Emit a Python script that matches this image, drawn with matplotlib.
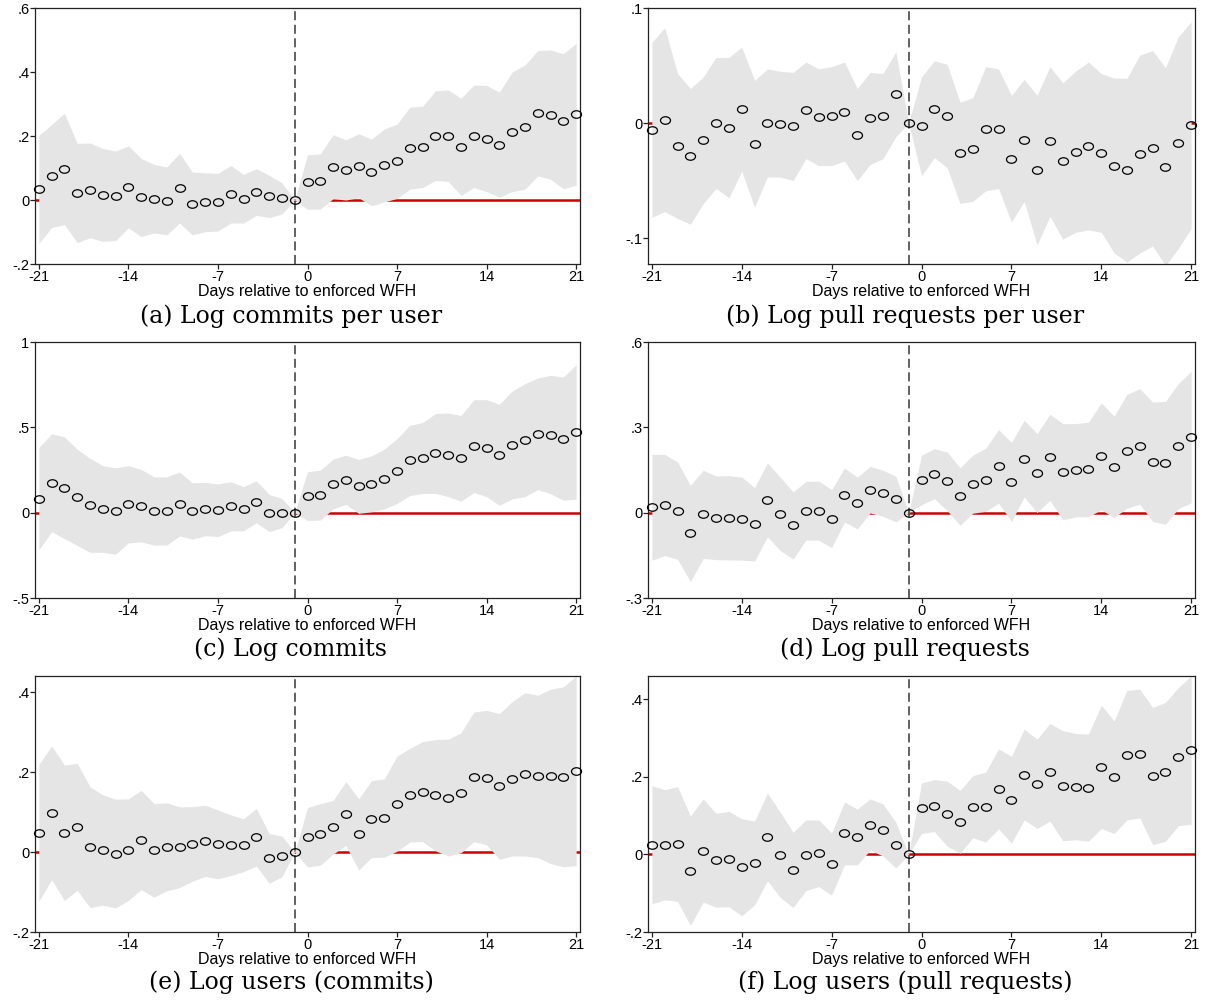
import numpy as np
import matplotlib.pyplot as plt
from matplotlib.path import Path
from matplotlib.transforms import Affine2D

# ----------------------------------------
# Data (event-study estimates and CI half-widths, days -21..21, base day -1)
# ----------------------------------------
days = np.arange(-21, 22)

# (a) Log commits per user
commits_user_est = [0.033, 0.075, 0.097, 0.022, 0.030, 0.016, 0.013, 0.041, 0.008, 0.004, -0.003,
                    0.037, -0.011, -0.007, -0.007, 0.018, 0.004, 0.025, 0.011, 0.005, 0.0,
                    0.056, 0.058, 0.104, 0.094, 0.107, 0.086, 0.108, 0.121, 0.162, 0.166, 0.201,
                    0.201, 0.166, 0.199, 0.192, 0.173, 0.213, 0.228, 0.271, 0.267, 0.246, 0.268]
commits_user_ci = [0.169, 0.161, 0.174, 0.155, 0.148, 0.145, 0.140, 0.128, 0.122, 0.107, 0.106,
                   0.109, 0.098, 0.092, 0.090, 0.090, 0.076, 0.073, 0.066, 0.049, 0.0,
                   0.085, 0.086, 0.100, 0.094, 0.100, 0.104, 0.114, 0.116, 0.128, 0.127, 0.140,
                   0.143, 0.152, 0.160, 0.166, 0.164, 0.187, 0.194, 0.196, 0.202, 0.211, 0.222]

# (b) Log pull requests per user
prs_user_est = [-0.006, 0.003, -0.020, -0.029, -0.015, 0.000, -0.004, 0.012, -0.018, 0.000, -0.001,
                -0.003, 0.011, 0.005, 0.006, 0.010, -0.010, 0.004, 0.006, 0.025, 0.0,
                -0.003, 0.012, 0.006, -0.026, -0.023, -0.005, -0.005, -0.031, -0.015, -0.041, -0.016,
                -0.033, -0.025, -0.020, -0.026, -0.037, -0.041, -0.027, -0.022, -0.038, -0.017, -0.002]
prs_user_ci = [0.076, 0.080, 0.063, 0.059, 0.055, 0.057, 0.061, 0.054, 0.055, 0.047, 0.046,
               0.047, 0.042, 0.042, 0.043, 0.043, 0.040, 0.040, 0.037, 0.037, 0.0,
               0.043, 0.042, 0.045, 0.044, 0.045, 0.054, 0.052, 0.055, 0.053, 0.065, 0.065,
               0.068, 0.070, 0.073, 0.069, 0.076, 0.080, 0.086, 0.085, 0.086, 0.092, 0.090]

# (c) Log commits
commits_est = [0.082, 0.175, 0.146, 0.090, 0.043, 0.021, 0.010, 0.049, 0.041, 0.010, 0.010,
               0.051, 0.010, 0.021, 0.014, 0.037, 0.023, 0.064, -0.002, -0.002, 0.0,
               0.097, 0.103, 0.168, 0.193, 0.154, 0.169, 0.197, 0.244, 0.306, 0.320, 0.347,
               0.339, 0.318, 0.390, 0.378, 0.339, 0.397, 0.425, 0.462, 0.458, 0.434, 0.473]
commits_ci = [0.300, 0.287, 0.298, 0.282, 0.275, 0.254, 0.253, 0.226, 0.212, 0.200, 0.200,
              0.187, 0.165, 0.156, 0.154, 0.144, 0.129, 0.123, 0.109, 0.086, 0.0,
              0.143, 0.146, 0.146, 0.144, 0.158, 0.164, 0.175, 0.190, 0.206, 0.208, 0.234,
              0.245, 0.251, 0.272, 0.284, 0.296, 0.316, 0.331, 0.327, 0.347, 0.361, 0.394]

# (d) Log pull requests
prs_est = [0.019, 0.027, 0.007, -0.073, -0.006, -0.018, -0.018, -0.021, -0.041, 0.045, -0.004,
           -0.045, 0.007, 0.007, -0.021, 0.062, 0.034, 0.081, 0.068, 0.048, 0.0,
           0.115, 0.137, 0.110, 0.057, 0.100, 0.116, 0.163, 0.108, 0.190, 0.139, 0.195,
           0.144, 0.149, 0.152, 0.198, 0.161, 0.216, 0.233, 0.179, 0.175, 0.234, 0.266]
prs_ci = [0.186, 0.178, 0.171, 0.169, 0.155, 0.147, 0.148, 0.146, 0.129, 0.130, 0.129,
          0.118, 0.103, 0.104, 0.102, 0.095, 0.091, 0.082, 0.081, 0.080, 0.0,
          0.087, 0.088, 0.103, 0.101, 0.102, 0.111, 0.129, 0.139, 0.135, 0.139, 0.151,
          0.169, 0.164, 0.166, 0.188, 0.178, 0.200, 0.203, 0.210, 0.216, 0.220, 0.231]

# (e) Log users (commits)
users_c_est = [0.048, 0.098, 0.048, 0.063, 0.012, 0.005, -0.004, 0.006, 0.030, 0.004, 0.013,
               0.012, 0.020, 0.028, 0.019, 0.017, 0.017, 0.037, -0.016, -0.011, 0.0,
               0.037, 0.044, 0.062, 0.096, 0.044, 0.082, 0.085, 0.121, 0.142, 0.151, 0.142,
               0.136, 0.148, 0.188, 0.186, 0.164, 0.183, 0.194, 0.189, 0.189, 0.188, 0.203]
users_c_ci = [0.171, 0.167, 0.169, 0.159, 0.151, 0.138, 0.136, 0.127, 0.124, 0.117, 0.110,
              0.101, 0.093, 0.089, 0.086, 0.076, 0.066, 0.072, 0.062, 0.051, 0.0,
              0.074, 0.077, 0.067, 0.080, 0.089, 0.096, 0.098, 0.119, 0.117, 0.125, 0.139,
              0.146, 0.150, 0.162, 0.168, 0.182, 0.193, 0.204, 0.203, 0.218, 0.225, 0.237]

# (f) Log users (pull requests)
users_p_est = [0.025, 0.025, 0.027, -0.042, 0.010, -0.015, -0.012, -0.033, -0.022, 0.045, -0.001,
               -0.040, -0.002, 0.003, -0.025, 0.054, 0.045, 0.077, 0.063, 0.024, 0.0,
               0.119, 0.126, 0.105, 0.084, 0.123, 0.122, 0.169, 0.141, 0.206, 0.182, 0.212,
               0.177, 0.175, 0.172, 0.226, 0.199, 0.256, 0.260, 0.202, 0.213, 0.252, 0.269]
users_p_ci = [0.152, 0.142, 0.148, 0.141, 0.133, 0.121, 0.123, 0.125, 0.108, 0.113, 0.110,
              0.097, 0.091, 0.086, 0.080, 0.081, 0.072, 0.066, 0.067, 0.059, 0.0,
              0.065, 0.067, 0.084, 0.081, 0.080, 0.090, 0.103, 0.112, 0.117, 0.115, 0.126,
              0.142, 0.137, 0.138, 0.159, 0.145, 0.167, 0.166, 0.177, 0.179, 0.178, 0.191]

captions = ["(a) Log commits per user", "(b) Log pull requests per user",
            "(c) Log commits", "(d) Log pull requests",
            "(e) Log users (commits)", "(f) Log users (pull requests)"]
estimates = [commits_user_est, prs_user_est, commits_est, prs_est, users_c_est, users_p_est]
cis = [commits_user_ci, prs_user_ci, commits_ci, prs_ci, users_c_ci, users_p_ci]
ylims = [(-0.2, 0.6), (-0.1226, 0.1), (-0.5, 1.0), (-0.3, 0.6), (-0.2, 0.44), (-0.2, 0.46)]
yticks = [[-0.2, 0, 0.2, 0.4, 0.6], [-0.1, 0, 0.1], [-0.5, 0, 0.5, 1],
          [-0.3, 0, 0.3, 0.6], [-0.2, 0, 0.2, 0.4], [-0.2, 0, 0.2, 0.4]]
xticks = [-21, -14, -7, 0, 7, 14, 21]

# ----------------------------------------
# Layout (pixels of a 1206x1001 figure)
# ----------------------------------------
W, H = 1206, 1001
col_left = [35, 648]
col_width = [545, 547]
caption_x = [291, 905]
row_top = [8, 342, 676]
row_height = 256
caption_y = [316, 649, 982]

# Stata-style hollow circles come out slightly flattened
ell = Path.unit_circle().transformed(Affine2D().scale(1.0, 0.75))


def fmt(v):
    s = f"{v:g}"
    return s if s == "0" else s.replace("0.", ".")


fig = plt.figure(figsize=(W / 100, H / 100), dpi=100)

for i in range(6):
    r, c = divmod(i, 2)
    left, width, top = col_left[c], col_width[c], row_top[r]
    ax = fig.add_axes([left / W, 1 - (top + row_height) / H, width / W, row_height / H])

    est = np.array(estimates[i])
    ci = np.array(cis[i])

    ax.axhline(0, color="#cc0000", lw=1.8, zorder=1)
    ax.fill_between(days, est - ci, est + ci, color="#e5e5e5", lw=0, zorder=2)
    ax.axvline(-1, color="#555555", lw=1.3, ls=(0, (5, 2.5)), zorder=3)
    ax.plot(days, est, ls="none", marker=ell, ms=7.2, mfc="none", mec="black",
            mew=0.9, zorder=4, clip_on=False)

    ax.set_xlim(-21.3, 21.3)
    ax.set_ylim(*ylims[i])
    ax.set_xticks(xticks)
    ax.set_xticklabels([str(t) for t in xticks], family="Liberation Sans", fontsize=10.5)
    ax.set_yticks(yticks[i])
    ax.set_yticklabels([fmt(t) for t in yticks[i]], family="Liberation Sans", fontsize=10.5)
    ax.tick_params(length=3.5, width=0.9, pad=0.5, color="#222222")
    for sp in ax.spines.values():
        sp.set_linewidth(0.9)
        sp.set_color("#222222")
    ax.set_xlabel("Days relative to enforced WFH", family="Liberation Sans",
                  fontsize=11.5, labelpad=0)

    fig.text(caption_x[c] / W, 1 - caption_y[r] / H, captions[i],
             family="DejaVu Serif", fontsize=17, ha="center", va="center")

fig.savefig("out.png", dpi=100)
